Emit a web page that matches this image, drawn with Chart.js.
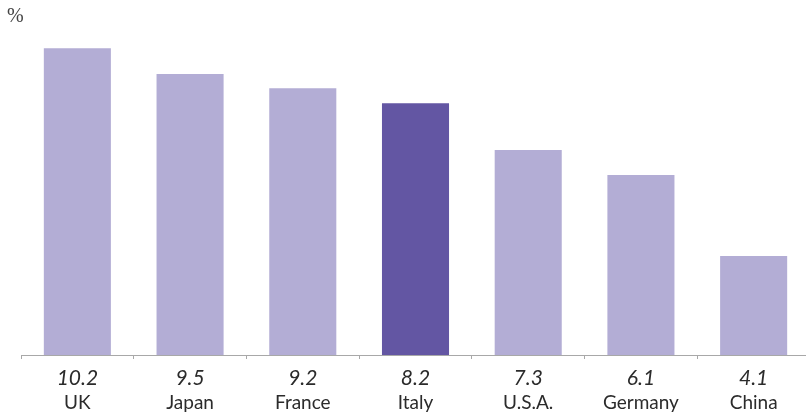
<!DOCTYPE html>
<html>
<head>
<meta charset="utf-8">
<script src="https://cdn.jsdelivr.net/npm/chart.js@4.4.0/dist/chart.umd.min.js"></script>
<style>
  html, body { margin: 0; padding: 0; background: #fff; overflow: hidden; }
  #wrap { width: 810px; height: 413px; position: relative; }
</style>
</head>
<body>
<div id="wrap"><canvas id="rateChart"></canvas></div>
<script>
// Countries and the printed rates
const countries = ["UK", "Japan", "France", "Italy", "U.S.A.", "Germany", "China"];
const rateLabels = ["10.2", "9.5", "9.2", "8.2", "7.3", "6.1", "4.1"];
// Bar heights as drawn in the picture (same units as the rates)
const barHeights = [10.2, 9.34, 8.87, 8.37, 6.81, 5.98, 3.29];
const highlight = "Italy";

const lightColor = "#b3add5";
const darkColor = "#6356a3";

// Draws the two-line category labels and the "%" unit
const labelPlugin = {
  id: "labels",
  afterDraw(chart) {
    const ctx = chart.ctx;
    const x = chart.scales.x;
    ctx.save();
    ctx.fillStyle = "#2b2b2b";
    ctx.textAlign = "center";
    countries.forEach(function (name, i) {
      const px = x.getPixelForValue(i);
      ctx.font = "italic 21px Lato";
      ctx.fillText(rateLabels[i], px, 385);
      ctx.font = "19px Lato";
      ctx.fillText(name, px, 409);
    });
    ctx.textAlign = "left";
    ctx.font = "20px 'Liberation Serif'";
    ctx.fillStyle = "#444";
    ctx.fillText("%", 7, 22);
    ctx.restore();
  },
};

document.addEventListener("DOMContentLoaded", function () {
  const ctx = document.getElementById("rateChart").getContext("2d");
  new Chart(ctx, {
    type: "bar",
    data: {
      labels: countries,
      datasets: [
        {
          data: barHeights,
          backgroundColor: countries.map((c) => (c === highlight ? darkColor : lightColor)),
          borderWidth: 0,
          categoryPercentage: 1,
          barPercentage: 0.595,
        },
      ],
    },
    options: {
      responsive: true,
      maintainAspectRatio: false,
      animation: false,
      layout: {
        padding: { left: 21, right: 0, top: 0, bottom: 54 },
      },
      plugins: {
        legend: { display: false },
        tooltip: { enabled: false },
      },
      scales: {
        x: {
          ticks: { display: false },
          grid: {
            drawOnChartArea: false,
            drawTicks: true,
            tickLength: 4,
            color: "#a8a8a8",
          },
          border: { color: "#a8a8a8", width: 1 },
        },
        y: {
          display: false,
          min: 0,
          max: 11.8,
        },
      },
    },
    plugins: [labelPlugin],
  });
});
</script>
</body>
</html>
